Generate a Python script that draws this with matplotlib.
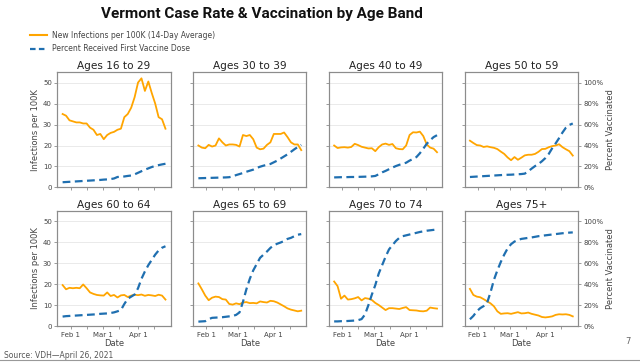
import matplotlib
matplotlib.use("Agg")
import matplotlib.pyplot as plt
import matplotlib.dates as mdates
from matplotlib.ticker import PercentFormatter
from matplotlib.lines import Line2D
import pandas as pd

# 3-day samples, Jan 25 - Apr 25 2021
dates = pd.date_range("2021-01-25", "2021-04-25", freq="3D")

bands = ["Ages 16 to 29", "Ages 30 to 39", "Ages 40 to 49", "Ages 50 to 59",
         "Ages 60 to 64", "Ages 65 to 69", "Ages 70 to 74", "Ages 75+"]

# new infections per 100K (14-day average)
cases_16_29 = [35, 34.2, 32, 31.5, 31, 31, 30.5, 30.5, 28.5, 27.5, 25, 25.5, 23, 25, 26, 26.5,
               27.5, 28, 33.5, 35, 38, 43, 50, 52, 46, 50.5, 45, 40, 33.5, 32.5, 28]
cases_30_39 = [20, 19, 18.7, 20.3, 19.5, 20, 23.4, 21.5, 20, 20.5, 20.5, 20.3, 19.5, 25, 24.5, 25,
               23, 19, 18.2, 18.5, 20.3, 21.5, 25.5, 25.5, 25.5, 26.2, 24, 21.5, 20.5, 20.5, 17.8]
cases_40_49 = [20, 18.8, 19.1, 19.2, 19.0, 19.3, 20.8, 20.2, 19.4, 19.0, 18.6, 18.7, 17.3, 19.2, 20.5, 20.9,
               20.3, 20.7, 18.7, 18.3, 18.2, 20.0, 25.0, 26.3, 26.2, 26.6, 24.5, 20.5, 19.0, 18.5, 16.8]
cases_50_59 = [22.3, 21.2, 20.2, 20.0, 19.3, 19.6, 19.2, 18.9, 18.3, 17.1, 16.0, 14.3, 13.0, 14.5, 13.2, 14.2,
               15.3, 15.6, 15.6, 16.0, 17.0, 18.3, 18.4, 19.2, 19.7, 20.0, 20.6, 19.2, 18.2, 17.3, 15.2]
cases_60_64 = [19.5, 17.5, 18.2, 18.0, 18.2, 18.0, 19.8, 18.0, 16.0, 15.3, 14.8, 14.6, 14.5, 16.0, 14.3, 14.8,
               13.6, 14.6, 14.8, 13.8, 14.5, 14.9, 14.7, 15.0, 14.4, 14.8, 14.6, 14.3, 14.9, 14.5, 12.6]
cases_65_69 = [20.3, 17.5, 14.5, 12.3, 13.5, 14.0, 13.8, 12.8, 12.6, 10.5, 10.2, 10.8, 10.4, 11.2, 11.4, 10.9,
               11.0, 10.8, 11.7, 11.4, 11.2, 12.0, 11.8, 11.2, 10.3, 9.4, 8.4, 7.8, 7.4, 7.0, 7.3]
cases_70_74 = [21.2, 19.0, 13.0, 14.5, 12.6, 12.8, 13.2, 13.8, 12.2, 13.3, 13.0, 12.4, 11.0, 10.0, 8.8, 7.6,
               8.5, 8.5, 8.3, 8.1, 8.6, 9.0, 7.6, 7.5, 7.4, 7.1, 7.0, 7.3, 8.8, 8.5, 8.3]
cases_75 = [17.7, 14.8, 14.0, 13.7, 12.8, 11.8, 10.8, 9.4, 7.0, 5.8, 6.0, 6.1, 5.8, 6.2, 6.6, 6.0,
            6.1, 6.4, 5.8, 5.4, 5.0, 4.3, 4.1, 4.3, 4.6, 5.3, 5.6, 5.5, 5.6, 5.3, 4.6]

# percent received first vaccine dose
vax_16_29 = [5, 5.2, 5.4, 5.6, 5.8, 6, 6.2, 6.4, 6.6, 6.8, 7, 7.2, 7.5, 7.7, 8, 8.6,
             10, 10.2, 10.5, 11, 11.4, 12.5, 14, 15.5, 17, 18.2, 19.5, 20.5, 21.3, 22, 22.6]
vax_30_39 = [8.8, 8.9, 9.0, 9.1, 9.2, 9.3, 9.4, 9.5, 9.6, 9.8, 10.6, 11.8, 12.8, 13.8, 15.0, 16.0,
             17.0, 18.6, 19.8, 20.8, 21.6, 22.4, 24.0, 25.6, 27.6, 29.6, 31.6, 34.0, 36.4, 38.6, 40.6]
vax_40_49 = [9.6, 9.7, 9.8, 9.8, 9.9, 10.0, 10.0, 10.1, 10.2, 10.3, 10.4, 10.6, 11.0, 12.6, 14.4, 15.8,
             17.4, 19.0, 20.4, 21.6, 22.6, 23.6, 25.6, 27.2, 29.0, 32.6, 37.0, 41.6, 45.0, 48.0, 49.8]
vax_50_59 = [10.0, 10.2, 10.4, 10.6, 10.8, 11.0, 11.2, 11.4, 11.6, 11.8, 12.0, 12.1, 12.2, 12.4, 12.6, 12.8,
             13.2, 15.4, 18.0, 20.4, 22.4, 25.0, 28.0, 32.0, 37.4, 42.0, 47.0, 52.4, 57.0, 59.6, 61.0]
vax_60_64 = [9.0, 9.4, 9.6, 9.8, 10.0, 10.2, 10.4, 10.6, 10.8, 11.0, 11.2, 11.6, 11.8, 12.0, 12.4, 13.0,
             14.0, 15.2, 21.0, 26.0, 28.0, 30.0, 36.0, 45.0, 52.0, 58.0, 63.0, 68.0, 72.0, 74.6, 76.0]
vax_65_69 = [4.2, 4.4, 4.6, 6.6, 7.8, 8.0, 8.2, 8.4, 8.8, 9.2, 9.6, 10.6, 13.0, 23.0, 35.0, 45.0,
             53.0, 59.0, 65.0, 68.0, 71.0, 74.4, 77.0, 78.4, 79.6, 81.0, 83.0, 84.0, 85.6, 87.0, 87.6]
vax_70_74 = [4.4, 4.4, 4.6, 4.6, 4.8, 5.0, 5.2, 5.6, 6.6, 11.0, 20.0, 30.0, 39.0, 50.0, 58.0, 66.0,
             73.0, 77.0, 81.0, 84.0, 85.6, 86.4, 87.2, 88.0, 88.8, 89.6, 90.2, 90.8, 91.2, 91.6, 92.0]
vax_75 = [6.4, 9.6, 14.0, 17.0, 19.0, 22.0, 32.0, 44.0, 53.0, 61.0, 68.0, 74.0, 78.0, 80.5, 82.0, 83.0,
          83.5, 84.0, 84.4, 85.0, 85.6, 86.0, 86.4, 86.8, 87.2, 87.6, 88.0, 88.4, 88.6, 89.0, 89.2]

cases = [cases_16_29, cases_30_39, cases_40_49, cases_50_59,
         cases_60_64, cases_65_69, cases_70_74, cases_75]
vax = [vax_16_29, vax_30_39, vax_40_49, vax_50_59,
       vax_60_64, vax_65_69, vax_70_74, vax_75]

ORANGE = "#ffa500"
BLUE = "#1f6fb0"
SPINE = "#8c8c8c"
TXT = "#444444"

fig, axes = plt.subplots(2, 4, figsize=(6.4, 3.62), dpi=100, sharex=True)
fig.subplots_adjust(left=0.0898, right=0.903, top=0.801, bottom=0.0994,
                    wspace=0.2, hspace=0.2)

for i, ax in enumerate(axes.flat):
    row, col = divmod(i, 4)
    ax.plot(dates, cases[i], color=ORANGE, lw=1.3, zorder=3)
    ax.set_ylim(0, 55)
    ax.set_yticks([0, 10, 20, 30, 40, 50])
    ax.grid(axis="y", color="#e6e6e6", lw=0.6)
    ax.set_axisbelow(True)
    ax.set_title(bands[i], fontsize=7.6, color="#222222", pad=2)

    ax2 = ax.twinx()
    ax2.plot(dates, vax[i], color=BLUE, lw=1.6, ls=(0, (3.5, 2)), zorder=4)
    ax2.set_ylim(0, 110)
    ax2.set_yticks([0, 20, 40, 60, 80, 100])
    ax2.yaxis.set_major_formatter(PercentFormatter(decimals=0))

    for a in (ax, ax2):
        for s in a.spines.values():
            s.set_color(SPINE)
            s.set_linewidth(0.8)
        a.tick_params(labelsize=5, colors=SPINE, labelcolor=TXT, length=2.5, width=0.6, pad=1.5)
        a.tick_params(which="minor", colors=SPINE, length=2.5, width=0.6)

    if col == 0:
        ax.set_ylabel("Infections per 100K", fontsize=6, color=TXT, labelpad=2)
    else:
        ax.tick_params(labelleft=False)
    if col == 3:
        ax2.set_ylabel("Percent Vaccinated", fontsize=6, color=TXT, labelpad=2)
    else:
        ax2.tick_params(right=False, labelright=False)
    if row == 1:
        ax.set_xlabel("Date", fontsize=6, color=TXT, labelpad=1)

    ax.xaxis.set_major_locator(mdates.MonthLocator(bymonthday=1))
    ax.xaxis.set_minor_locator(mdates.MonthLocator(bymonthday=15))
    ax.xaxis.set_major_formatter(mdates.DateFormatter("%b %-d"))

fig.text(0.41, 0.962, "Vermont Case Rate & Vaccination by Age Band",
         ha="center", va="center", fontsize=11, fontweight="bold",
         family="Roboto", color="#111111")

handles = [Line2D([], [], color=ORANGE, lw=1.5),
           Line2D([], [], color=BLUE, lw=1.6, ls=(0, (2.5, 1.5)))]
fig.legend(handles, ["New Infections per 100K (14-Day Average)",
                     "Percent Received First Vaccine Dose"],
           loc="upper left", bbox_to_anchor=(0.047, 0.915), frameon=False,
           fontsize=5.5, handlelength=2.2, handletextpad=0.7, labelspacing=0.6,
           borderaxespad=0, borderpad=0, labelcolor=TXT)

fig.text(0.006, 0.017, "Source: VDH\u2014April 26, 2021", fontsize=5.5, color="#555555",
         ha="left", va="center")
fig.text(0.982, 0.058, "7", fontsize=6, color="#666666", ha="center", va="center")
fig.add_artist(Line2D([0, 1], [0.005, 0.005], color="#999999", lw=0.8,
                      transform=fig.transFigure))

fig.savefig("out.png", dpi=100)
